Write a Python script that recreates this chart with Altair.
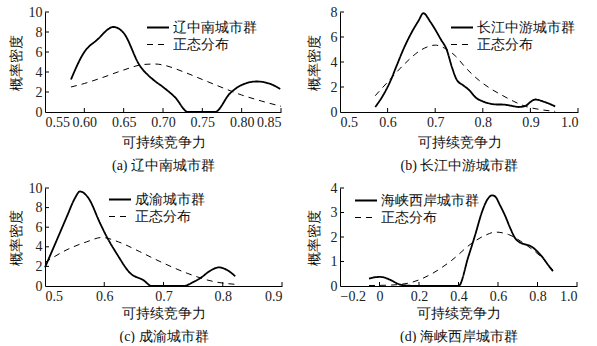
import altair as alt
import pandas as pd

NORMAL = "正态分布"
XTITLE = "可持续竞争力"
YTITLE = "概率密度"

# ---- panel (a) ----
a_city = "辽中南城市群"
a_cap = "(a) 辽中南城市群"
a_sx = [0.583, 0.60, 0.616, 0.637, 0.65, 0.67, 0.688, 0.70, 0.715, 0.732, 0.75, 0.766, 0.785, 0.80, 0.819, 0.835, 0.849]
a_sy = [3.25, 6.0, 7.2, 8.5, 7.9, 4.7, 3.2, 2.5, 1.5, 0.0, 0.0, 0.0, 1.85, 2.7, 3.05, 2.85, 2.3]
a_nx = [0.583, 0.60, 0.625, 0.65, 0.675, 0.69, 0.70, 0.725, 0.75, 0.775, 0.80, 0.825, 0.85]
a_ny = [2.5, 2.85, 3.5, 4.2, 4.75, 4.8, 4.7, 4.05, 3.25, 2.45, 1.7, 1.1, 0.57]
a_xticks = [0.55, 0.60, 0.65, 0.70, 0.75, 0.80, 0.85]
a_yticks = [0, 2, 4, 6, 8, 10]

# ---- panel (b) ----
b_city = "长江中游城市群"
b_cap = "(b) 长江中游城市群"
b_sx = [0.574, 0.59, 0.605, 0.62, 0.633, 0.651, 0.665, 0.675, 0.69, 0.70, 0.712, 0.724, 0.735, 0.745, 0.76, 0.77, 0.787, 0.80, 0.812, 0.83, 0.84, 0.86, 0.875, 0.89, 0.90, 0.91, 0.93, 0.952]
b_sy = [0.4, 1.3, 2.4, 3.8, 5.0, 6.4, 7.3, 7.9, 7.2, 6.6, 5.8, 5.0, 3.6, 2.6, 2.1, 1.8, 1.1, 0.85, 0.7, 0.6, 0.6, 0.5, 0.4, 0.5, 0.8, 1.0, 0.8, 0.45]
b_nx = [0.574, 0.605, 0.637, 0.672, 0.70, 0.72, 0.742, 0.765, 0.79, 0.815, 0.84, 0.865, 0.89, 0.92, 0.952]
b_ny = [1.3, 2.6, 3.9, 5.0, 5.35, 5.1, 4.5, 3.5, 2.6, 1.9, 1.35, 0.85, 0.45, 0.2, 0.05]
b_xticks = [0.5, 0.6, 0.7, 0.8, 0.9, 1.0]
b_yticks = [0, 2, 4, 6, 8]

# ---- panel (c) ----
c_city = "成渝城市群"
c_cap = "(c) 成渝城市群"
c_sx = [0.5, 0.52, 0.537, 0.55, 0.559, 0.573, 0.593, 0.604, 0.621, 0.644, 0.666, 0.68, 0.70, 0.734, 0.75, 0.762, 0.78, 0.793, 0.805, 0.813, 0.821]
c_sy = [1.9, 4.7, 7.1, 8.9, 9.65, 9.0, 6.4, 5.05, 3.3, 1.3, 0.6, 0.0, 0.0, 0.0, 0.4, 0.8, 1.6, 1.9, 1.7, 1.4, 1.0]
c_nx = [0.5, 0.537, 0.57, 0.596, 0.624, 0.66, 0.694, 0.74, 0.785, 0.821]
c_ny = [2.4, 3.7, 4.5, 4.95, 4.5, 3.5, 2.5, 1.3, 0.45, 0.17]
c_xticks = [0.5, 0.6, 0.7, 0.8, 0.9]
c_yticks = [0, 2, 4, 6, 8, 10]

# ---- panel (d) ----
d_city = "海峡西岸城市群"
d_cap = "(d) 海峡西岸城市群"
d_sx = [-0.053, -0.02, 0.003, 0.03, 0.062, 0.09, 0.113, 0.2, 0.3, 0.40, 0.45, 0.485, 0.518, 0.544, 0.57, 0.586, 0.61, 0.637, 0.66, 0.687, 0.71, 0.738, 0.76, 0.78, 0.80, 0.823, 0.85, 0.878]
d_sy = [0.3, 0.36, 0.37, 0.33, 0.22, 0.1, 0.04, 0.0, 0.0, 0.0, 1.2, 2.1, 3.0, 3.5, 3.7, 3.65, 3.3, 2.85, 2.4, 1.95, 1.78, 1.7, 1.65, 1.55, 1.4, 1.2, 0.9, 0.6]
d_nx = [-0.053, 0.062, 0.163, 0.265, 0.366, 0.468, 0.544, 0.586, 0.654, 0.738, 0.823, 0.878]
d_ny = [0.02, 0.04, 0.15, 0.5, 1.05, 1.75, 2.1, 2.2, 2.1, 1.7, 1.15, 0.65]
d_xticks = [-0.2, 0.0, 0.2, 0.4, 0.6, 0.8, 1.0]
d_yticks = [0, 1, 2, 3, 4]

FONT = "Liberation Serif"


def legend(lx, ly):
    return alt.Legend(orient="none", legendX=lx, legendY=ly, title=None,
                      symbolType="stroke", symbolSize=484, symbolStrokeWidth=1.5,
                      symbolStrokeColor="black",
                      labelFontSize=14, labelFont=FONT, labelColor="#111",
                      padding=0, rowPadding=-5, clipHeight=17, labelOffset=3)


def panel(city, cap, sx, sy, nx, ny, xticks, yticks, xlabel_expr, w, h, lx, ly, ytp, xtp):
    df = pd.DataFrame({
        "x": sx + nx,
        "y": sy + ny,
        "s": [city] * len(sx) + [NORMAL] * len(nx),
    })
    dom = [city, NORMAL]
    xs = alt.Scale(domain=[xticks[0], xticks[-1]], nice=False, zero=False)
    ys = alt.Scale(domain=[yticks[0], yticks[-1]], nice=False)
    xax = alt.Axis(values=xticks, labelExpr=xlabel_expr, title=[XTITLE, cap],
                   ticks=False, grid=False, labelPadding=3, titlePadding=xtp,
                   titleLineHeight=23, labelOverlap=False)
    yax = alt.Axis(values=yticks, format="d", title=YTITLE, ticks=False, grid=False,
                   labelPadding=3, titlePadding=ytp, labelOverlap=False)
    lines = alt.Chart(df).mark_line(interpolate="monotone", color="black").encode(
        x=alt.X("x:Q", scale=xs, axis=xax),
        y=alt.Y("y:Q", scale=ys, axis=yax),
        strokeDash=alt.StrokeDash("s:N", scale=alt.Scale(domain=dom, range=[[1, 0], [6, 5]]),
                                  legend=legend(lx, ly)),
        strokeWidth=alt.StrokeWidth("s:N", scale=alt.Scale(domain=dom, range=[1.8, 1.0]), legend=None),
        order=alt.Order("x:Q"),
    )
    xt = alt.Chart(pd.DataFrame({"t": xticks[1:]})).mark_rule(color="black", strokeWidth=1).encode(
        x=alt.X("t:Q", scale=xs, axis=xax), y=alt.value(h - 4), y2=alt.value(h))
    yt = alt.Chart(pd.DataFrame({"t": yticks[1:]})).mark_rule(color="black", strokeWidth=1).encode(
        y=alt.Y("t:Q", scale=ys, axis=yax), x=alt.value(0), x2=alt.value(4))
    return alt.layer(lines, xt, yt).properties(width=w, height=h)


fmt2 = "format(datum.value, '.2f')"
fmt1 = "format(datum.value, '.1f')"
fmtd = "datum.value == 0 ? '0' : format(datum.value, '.1f')"

pa = panel(a_city, a_cap, a_sx, a_sy, a_nx, a_ny, a_xticks, a_yticks, fmt2, 236, 100, 101, 7, 5, 6)
pb = panel(b_city, b_cap, b_sx, b_sy, b_nx, b_ny, b_xticks, b_yticks, fmt1, 238, 100, 110, 7, 9, 6)
pc = panel(c_city, c_cap, c_sx, c_sy, c_nx, c_ny, c_xticks, c_yticks, fmt1, 237, 98, 63, 3, 5, 3)
pd_ = panel(d_city, d_cap, d_sx, d_sy, d_nx, d_ny, d_xticks, d_yticks, fmtd, 237, 98, 14, 4, 9, 3)

indep = dict(x="independent", y="independent", strokeDash="independent", strokeWidth="independent")
row1 = alt.hconcat(pa, pb, spacing=23).resolve_scale(**indep)
row2 = alt.hconcat(pc, pd_, spacing=24).resolve_scale(**indep)
chart = alt.vconcat(row1, row2, spacing=9).resolve_scale(**indep).properties(
    padding={"left": 9, "top": 5, "right": 0, "bottom": 0},
    background="white",
).configure_view(stroke=None).configure_axis(
    domainColor="black", domainWidth=1, labelColor="#222", labelFont=FONT, labelFontSize=14,
    titleFont=FONT, titleFontSize=14, titleFontWeight="normal", titleColor="#111",
)

chart.save("out.html", embed_options={"renderer": "svg", "actions": False})
